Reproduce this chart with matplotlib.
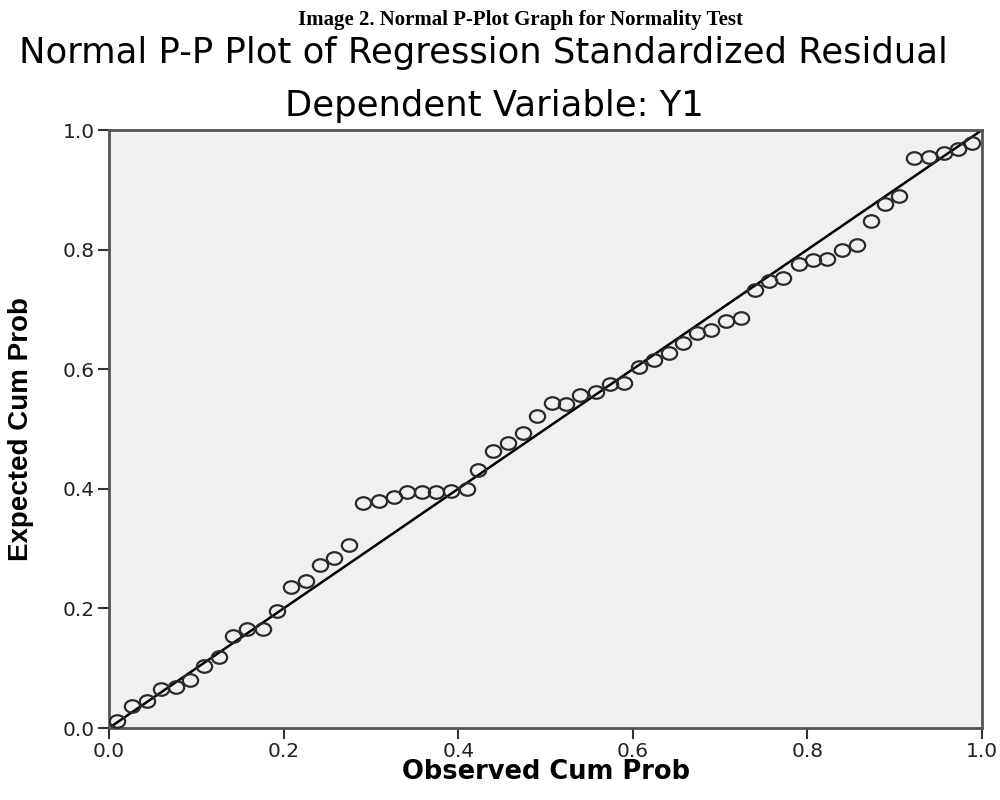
import numpy as np
import matplotlib
matplotlib.use("Agg")
import matplotlib.pyplot as plt
from matplotlib.path import Path
from matplotlib.transforms import Affine2D

# observed vs expected cumulative probability
observed_cum = [
    0.009, 0.026, 0.043, 0.060, 0.077, 0.093, 0.109, 0.126, 0.142, 0.158, 0.176, 0.192, 0.208,
    0.226, 0.242, 0.258, 0.275, 0.291, 0.309, 0.326, 0.341, 0.358, 0.375, 0.392, 0.410, 0.423,
    0.440, 0.457, 0.474, 0.490, 0.507, 0.524, 0.540, 0.558, 0.574, 0.590, 0.607,
    0.624, 0.641, 0.657, 0.673, 0.690, 0.707, 0.724, 0.740, 0.756, 0.772, 0.790, 0.806,
    0.823, 0.840, 0.857, 0.873, 0.889, 0.905, 0.922, 0.939, 0.956, 0.972, 0.989,
]
expected_cum = [
    0.011, 0.037, 0.045, 0.065, 0.069, 0.081, 0.104, 0.118, 0.154, 0.166, 0.166, 0.196, 0.236,
    0.245, 0.273, 0.285, 0.306, 0.376, 0.380, 0.386, 0.394, 0.395, 0.395, 0.397, 0.399, 0.431,
    0.464, 0.476, 0.494, 0.522, 0.543, 0.542, 0.557, 0.562, 0.576, 0.577, 0.604,
    0.615, 0.627, 0.644, 0.660, 0.666, 0.680, 0.685, 0.732, 0.748, 0.753, 0.776, 0.783,
    0.785, 0.799, 0.808, 0.848, 0.876, 0.890, 0.954, 0.955, 0.961, 0.969, 0.978,
]
ref_line = [0.0, 1.0]
tick_values = [0.0, 0.2, 0.4, 0.6, 0.8, 1.0]
tick_labels = ["0.0", "0.2", "0.4", "0.6", "0.8", "1.0"]

caption = "Image 2. Normal P-Plot Graph for Normality Test"
title = "Normal P-P Plot of Regression Standardized Residual"
subtitle = "Dependent Variable: Y1"

wide = ["DejaVu Sans"]
sans = ["Liberation Sans", "DejaVu Sans"]

# the original export is a bit stretched sideways, so the circles are slightly wide
ellipse = Path.unit_circle().transformed(Affine2D().scale(1.0, 0.82))

fig = plt.figure(figsize=(10, 8), dpi=100)
ax = fig.add_axes([0.109, 0.09, 0.873, 0.7475])
ax.set_facecolor("#f0f0f0")

ax.plot(ref_line, ref_line, color="black", linewidth=1.8, zorder=2)
ax.plot(observed_cum, expected_cum, linestyle="none", marker=ellipse, markersize=11,
        markerfacecolor="none", markeredgecolor="#2a2a2a", markeredgewidth=1.6, zorder=3)

ax.set_xlim(0, 1)
ax.set_ylim(0, 1)
ax.set_xticks(tick_values)
ax.set_xticklabels(tick_labels, family=wide, fontsize=14.5, color="#222222")
ax.set_yticks(tick_values)
ax.set_yticklabels(tick_labels, family=wide, fontsize=14.5, color="#222222")
ax.tick_params(direction="out", length=8, width=1.5, color="#333333", pad=2)

for s in ax.spines.values():
    s.set_color("#555555")
    s.set_linewidth(2)

ax.set_xlabel("Observed Cum Prob", family=wide, fontsize=18.5, fontweight="bold")
ax.xaxis.set_label_coords(0.5, -0.074)
ax.xaxis.label.set_va("center")
ax.set_ylabel("Expected Cum Prob", family=sans, fontsize=20, fontweight="bold")
ax.yaxis.set_label_coords(-0.101, 0.5)
ax.yaxis.label.set_va("center")
ax.yaxis.label.set_ha("center")

fig.text(0.52, 0.975, caption, ha="center", va="center",
         family=["Liberation Serif", "DejaVu Serif"], fontsize=15, fontweight="bold")
fig.text(0.483, 0.934, title, ha="center", va="center", family=wide, fontsize=25.5)
fig.text(0.494, 0.868, subtitle, ha="center", va="center", family=wide, fontsize=25.5)

fig.savefig("out.png", dpi=100)
